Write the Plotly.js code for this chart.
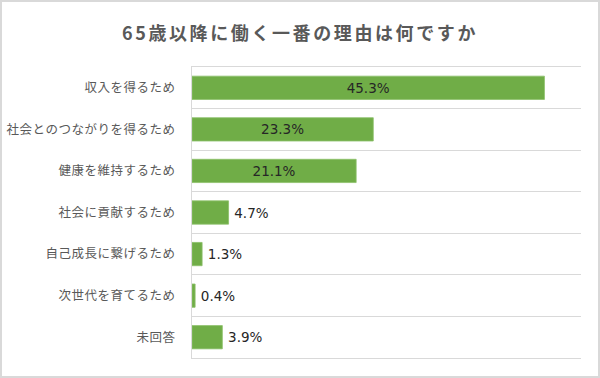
<!DOCTYPE html>
<html>
<head>
<meta charset="utf-8">
<script src="https://cdn.plot.ly/plotly-3.0.1.min.js"></script>
<style>
  html, body { margin: 0; padding: 0; background: #fff; }
  #frame { width: 596px; height: 374px; border: 2px solid #d9d9d9; position: relative; overflow: hidden; }
  #chart { position: absolute; left: -2px; top: -2px; width: 600px; height: 378px; }
  .ytick text { letter-spacing: 0.5px; }
  .gtitle { letter-spacing: 2.6px; }
</style>
</head>
<body>
<div id="frame"><div id="chart"></div></div>
<script>
const categories = ['収入を得るため', '社会とのつながりを得るため', '健康を維持するため', '社会に貢献するため', '自己成長に繋げるため', '次世代を育てるため', '未回答'];
const values = [45.3, 23.3, 21.1, 4.7, 1.3, 0.4, 3.9];
const labelPositions = ['inside', 'inside', 'inside', 'outside', 'outside', 'outside', 'outside'];
const titleText = '65歳以降に働く一番の理由は何ですか';

const trace = {
  type: 'bar',
  orientation: 'h',
  y: categories,
  x: values,
  text: values.map((v, i) => (labelPositions[i] === 'outside' ? '\u2009' : '') + v.toFixed(1) + '%'),
  textposition: labelPositions,
  insidetextanchor: 'middle',
  textangle: 0,
  constraintext: 'none',
  cliponaxis: false,
  insidetextfont: { family: 'DejaVu Sans, Verdana, sans-serif', size: 13.5, color: '#262626' },
  outsidetextfont: { family: 'DejaVu Sans, Verdana, sans-serif', size: 13.5, color: '#262626' },
  marker: { color: '#70ad47', line: { color: '#8cc06a', width: 0.8 } },
  width: 0.56,
  hoverinfo: 'none'
};

const layout = {
  width: 600,
  height: 378,
  margin: { l: 192, r: 19, t: 67, b: 20, pad: 0 },
  paper_bgcolor: '#ffffff',
  plot_bgcolor: '#ffffff',
  showlegend: false,
  title: {
    text: '<b>' + titleText + '</b>',
    x: 0.5,
    xanchor: 'center',
    y: 0.91,
    yanchor: 'middle',
    font: { family: 'Noto Sans CJK JP, sans-serif', size: 18, color: '#595959' }
  },
  xaxis: {
    range: [0, 50],
    showticklabels: false,
    showgrid: false,
    zeroline: false,
    showline: true,
    mirror: true,
    linecolor: '#d9d9d9',
    linewidth: 1,
    ticks: '',
    fixedrange: true
  },
  yaxis: {
    type: 'category',
    autorange: 'reversed',
    tickson: 'boundaries',
    showgrid: true,
    gridcolor: '#d9d9d9',
    gridwidth: 1,
    showline: true,
    linecolor: '#d9d9d9',
    linewidth: 1,
    ticks: '',
    ticklabelstandoff: 13,
    tickfont: { family: 'Noto Sans CJK JP, sans-serif', size: 12.5, color: '#595959' },
    fixedrange: true
  }
};

Plotly.newPlot('chart', [trace], layout, { displayModeBar: false, staticPlot: true });
</script>
</body>
</html>
